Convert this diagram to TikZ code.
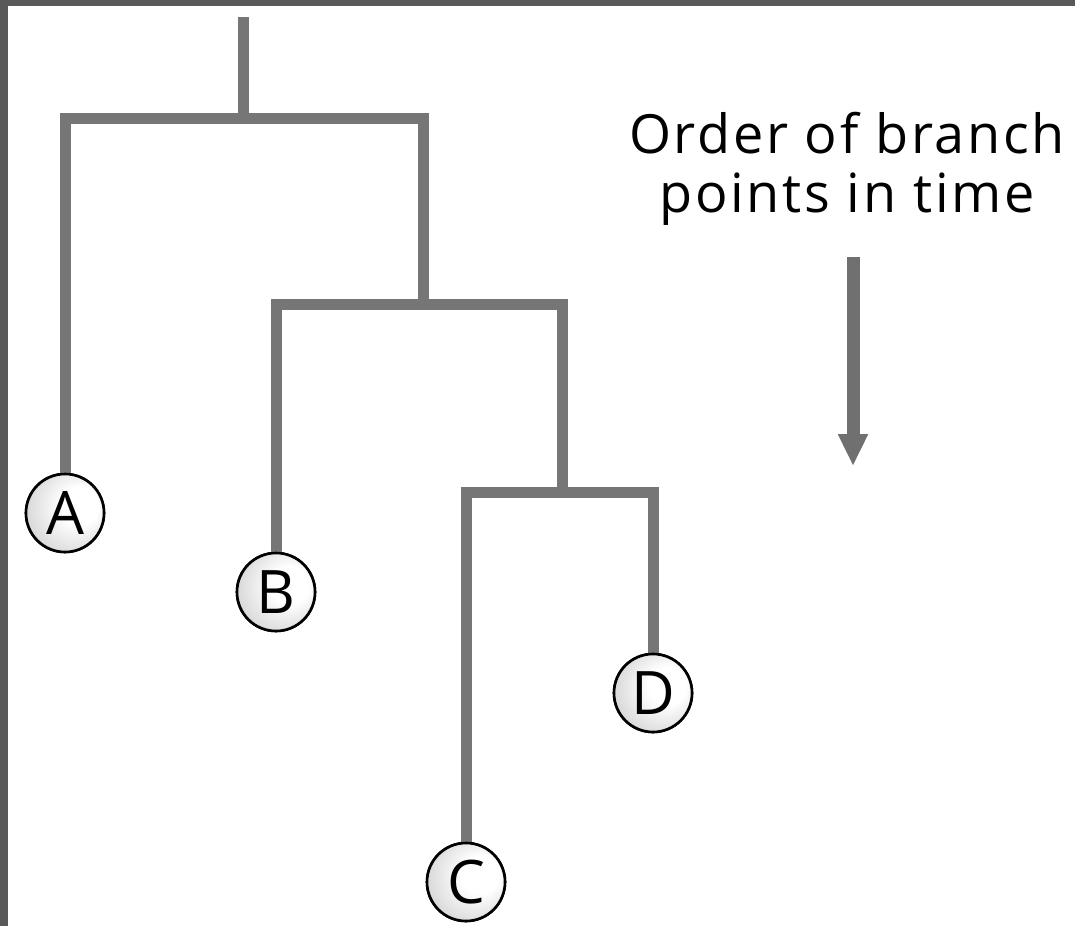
\documentclass[tikz,border=0pt]{standalone}
\usepackage{fontspec}
\setmainfont{Open Sans}
\usetikzlibrary{arrows.meta}
\definecolor{branchgray}{HTML}{767676}
\definecolor{arrowgray}{HTML}{707070}
\definecolor{framegray}{HTML}{595959}
\pgfdeclareradialshading{leafball}{\pgfpoint{12bp}{6bp}}{color(0bp)=(white); color(12bp)=(white); color(36bp)=(black!20); color(50bp)=(black!25)}
\tikzset{
  leaf/.style={circle, draw=black, line width=2.6pt, shading=leafball, minimum size=78pt, inner sep=0pt, font=\fontsize{60}{60}\selectfont},
  branch/.style={draw=branchgray, line width=11pt, line join=miter},
  timearrow/.style={draw=arrowgray, line width=13pt, -{Triangle[length=32pt,width=28pt]}},
  caption/.style={align=center, font=\fontsize{54}{59}\selectfont\addfontfeature{LetterSpace=5}, inner sep=0pt}
}
\begin{document}
\begin{tikzpicture}[x=1pt,y=-1pt]
\useasboundingbox (0,0) rectangle (1075,926);
\fill[white] (0,0) rectangle (1075,926);
\fill[framegray] (0,0) rectangle (8,926);
\fill[framegray] (0,0) rectangle (1075,6);
% leaves
\node[leaf] (A) at (65,513) {A};
\node[leaf] (B) at (276,592) {B};
\node[leaf] (C) at (466,882) {C};
\node[leaf] (D) at (653,693) {D};
% branch points
\coordinate (root) at (243.5,17);
\coordinate (j1) at (243.5,118);
\coordinate (j2) at (423.5,304);
\coordinate (j3) at (562,492);
\draw[branch] (root) -- (j1);
\draw[branch] (A.north) |- (j1) -| (j2);
\draw[branch] (B.north) |- (j2) -| (j3);
\draw[branch] (C.north) |- (j3) -| (D.north);
% redraw leaves on top
\node[leaf] at (A) {A};
\node[leaf] at (B) {B};
\node[leaf] at (C) {C};
\node[leaf] at (D) {D};
% caption and arrow
\node[caption, anchor=base] (cap) at (847,212) {Order of branch\\points in time};
\coordinate (arrtop) at (853,257);
\coordinate (arrtip) at (853,466);
\draw[timearrow] (arrtop) -- (arrtip);
\end{tikzpicture}
\end{document}
